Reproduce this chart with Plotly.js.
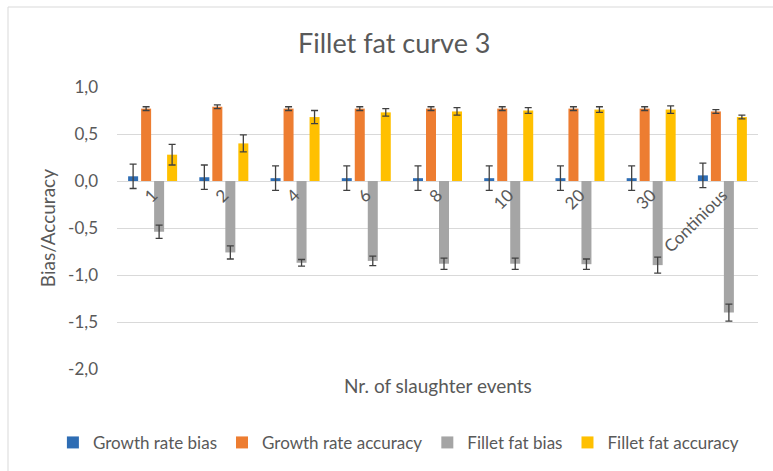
<!DOCTYPE html>
<html>
<head>
<meta charset="utf-8">
<script src="https://cdn.plot.ly/plotly-3.0.1.min.js"></script>
<style>
  html, body { margin: 0; padding: 0; background: #fff; }
  #chart { width: 773px; height: 471px; }
</style>
</head>
<body>
<div id="chart"></div>
<script>
const categories = ['1', '2', '4', '6', '8', '10', '20', '30', 'Continious'];
const growthRateBias = [0.05, 0.04, 0.03, 0.03, 0.03, 0.03, 0.03, 0.03, 0.06];
const growthRateBiasErr = [0.13, 0.13, 0.13, 0.13, 0.13, 0.13, 0.13, 0.13, 0.13];
const growthRateAccuracy = [0.77, 0.79, 0.77, 0.77, 0.77, 0.77, 0.77, 0.77, 0.74];
const growthRateAccuracyErr = [0.02, 0.02, 0.02, 0.02, 0.02, 0.02, 0.02, 0.02, 0.02];
const filletFatBias = [-0.54, -0.76, -0.87, -0.85, -0.88, -0.88, -0.885, -0.895, -1.40];
const filletFatBiasErr = [0.07, 0.07, 0.035, 0.05, 0.06, 0.06, 0.055, 0.085, 0.09];
const filletFatAccuracy = [0.28, 0.40, 0.68, 0.73, 0.74, 0.75, 0.76, 0.76, 0.68];
const filletFatAccuracyErr = [0.11, 0.09, 0.07, 0.04, 0.04, 0.03, 0.03, 0.04, 0.02];
const yTickValues = [-2, -1.5, -1, -0.5, 0, 0.5, 1];
const yTickLabels = ['-2,0', '-1,5', '-1,0', '-0,5', '0,0', '0,5', '1,0'];

const errStyle = (arr) => ({ type: 'data', array: arr, visible: true, color: '#404040', thickness: 1.3, width: 3.5 });

const traces = [
  { type: 'bar', name: 'Growth rate bias', x: categories, y: growthRateBias, error_y: errStyle(growthRateBiasErr), marker: { color: '#2E6DB4' } },
  { type: 'bar', name: 'Growth rate accuracy', x: categories, y: growthRateAccuracy, error_y: errStyle(growthRateAccuracyErr), marker: { color: '#ED7D31' } },
  { type: 'bar', name: 'Fillet fat bias', x: categories, y: filletFatBias, error_y: errStyle(filletFatBiasErr), marker: { color: '#A5A5A5' } },
  { type: 'bar', name: 'Fillet fat accuracy', x: categories, y: filletFatAccuracy, error_y: errStyle(filletFatAccuracyErr), marker: { color: '#FFC000' } }
];

const fontFam = 'Lato, "Open Sans", sans-serif';
const txt = '#595959';
const layout = {
  width: 773, height: 471,
  margin: { l: 117, r: 15, t: 87, b: 102, autoexpand: false },
  paper_bgcolor: '#ffffff', plot_bgcolor: '#ffffff',
  font: { family: fontFam, color: txt, size: 17 },
  title: { text: 'Fillet fat curve 3', font: { family: fontFam, size: 27, color: txt }, x: 0.51, xanchor: 'center', y: 0.908, yanchor: 'middle' },
  barmode: 'group', bargap: 0.27, bargroupgap: 0.23,
  showlegend: true,
  legend: { orientation: 'h', xref: 'paper', yref: 'paper', x: -0.1, xanchor: 'left', y: -0.262, yanchor: 'middle', font: { family: fontFam, size: 17, color: txt }, itemwidth: 30, tracegroupgap: 0, borderwidth: 0 },
  xaxis: {
    type: 'category', anchor: 'free', position: 2/3,
    showgrid: false, showline: false, zeroline: false, ticks: '',
    tickangle: -45, tickfont: { family: fontFam, size: 17, color: txt }
  },
  yaxis: {
    range: [-2, 1], tickmode: 'array', tickvals: yTickValues, ticktext: yTickLabels,
    showgrid: true, gridcolor: '#D9D9D9', gridwidth: 1,
    zeroline: true, zerolinecolor: '#D9D9D9', zerolinewidth: 1,
    showline: false, ticks: '', ticklabelstandoff: 18,
    tickfont: { family: fontFam, size: 17, color: txt }
  },
  annotations: [
    { text: 'Nr. of slaughter events', xref: 'paper', yref: 'paper', x: 0.5, y: -0.057, xanchor: 'center', yanchor: 'middle', showarrow: false, font: { family: fontFam, size: 19, color: txt } },
    { text: 'Bias/Accuracy', xref: 'paper', yref: 'paper', x: -0.109, y: 0.5, xanchor: 'center', yanchor: 'middle', textangle: -90, showarrow: false, font: { family: fontFam, size: 19, color: txt } }
  ],
  shapes: [
    { type: 'line', xref: 'paper', yref: 'paper', x0: (8 - 117) / 641, x1: (773 - 117) / 641, y0: (471 - 102 - 7) / 282, y1: (471 - 102 - 7) / 282, line: { color: '#D9D9D9', width: 1 } },
    { type: 'line', xref: 'paper', yref: 'paper', x0: (8 - 117) / 641, x1: (8 - 117) / 641, y0: (471 - 102 - 7) / 282, y1: -102 / 282, line: { color: '#D9D9D9', width: 1 } }
  ]
};

Plotly.newPlot('chart', traces, layout, { displayModeBar: false, staticPlot: true });
</script>
</body>
</html>
